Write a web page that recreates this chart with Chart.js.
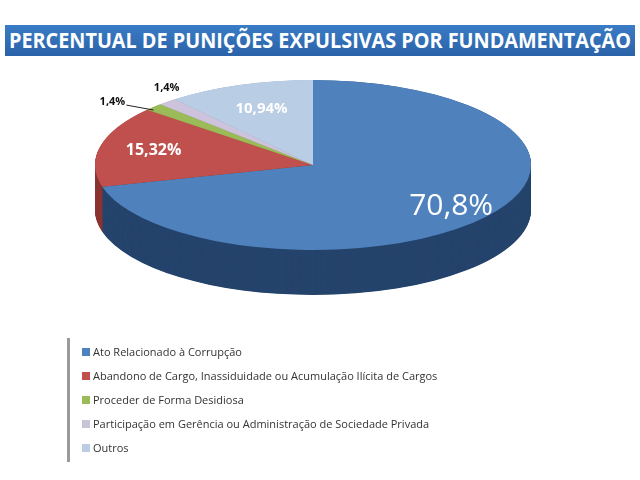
<!DOCTYPE html>
<html><head><meta charset="utf-8">
<script src="https://cdn.jsdelivr.net/npm/chart.js@4"></script>
<style>
body{margin:0;width:640px;height:480px;background:#fff;position:relative;overflow:hidden;font-family:"Open Sans",sans-serif}
#title{position:absolute;left:5px;top:25px;width:630px;height:31px;background:linear-gradient(#3a7cc6,#2a62a8);overflow:hidden}
#tt{position:absolute;left:0;top:0;color:#fff;font:bold 21px "Open Sans",sans-serif;line-height:31px;white-space:nowrap;transform-origin:0 50%}
#c{position:absolute;left:0;top:0}
#legend{position:absolute;left:67px;top:338px;border-left:3px solid #9a9a9a;padding:4px 0 2px 12px;height:118px}
.it{font-size:11px;color:#333;height:24px;line-height:20px;white-space:nowrap}
.sw{display:inline-block;width:8px;height:8px;margin-right:3px;vertical-align:0px}
</style></head><body>
<canvas id="c" width="640" height="480"></canvas>
<div id="title"><span id="tt">PERCENTUAL DE PUNIÇÕES EXPULSIVAS POR FUNDAMENTAÇÃO</span></div>
<div id="legend"></div>
<script>
const categories=["Ato Relacionado à Corrupção","Abandono de Cargo, Inassiduidade ou Acumulação Ilícita de Cargos","Proceder de Forma Desidiosa","Participação em Gerência ou Administração de Sociedade Privada","Outros"];
const values=[70.8,15.32,1.4,1.4,10.94];
const valueLabels=["70,8%","15,32%","1,4%","1,4%","10,94%"];
const topColors=["#4f81bd","#c0504d","#9bbb59","#cdc3dd","#b9cde5"];
const sideColors=["#25446c","#8a3431","#6b8a35","#9a90ae","#8a9fbb"];
const legendColors=["#4f81bd","#c0504d","#9bbb59","#c9c3d9","#b9cde5"];

const tt=document.getElementById('tt');
const w=tt.getBoundingClientRect().width, target=622;
tt.style.transform=`scaleX(${target/w})`;tt.style.left='4px';

const RX=218, RY=85, DEPTH=45;
let lg=document.getElementById('legend');
categories.forEach((c,i)=>{lg.innerHTML+=`<div class="it"><span class="sw" style="background:${legendColors[i]}"></span>${c}</div>`});

function tf(arc){const r=arc.outerRadius;return {sx:RX/r,sy:RY/r};}
const pie3d={id:'pie3d',
 beforeDatasetsDraw(chart){
  const ctx=chart.ctx,meta=chart.getDatasetMeta(0),a0=meta.data[0];
  const {sx,sy}=tf(a0),cx=a0.x,cy=a0.y;
  ctx.save();ctx.translate(cx,cy);ctx.scale(sx,sy);ctx.translate(-cx,-cy);
  const d=DEPTH/sy;
  for(let o=d;o>0;o-=1){
   meta.data.forEach((a,i)=>{
    ctx.beginPath();ctx.moveTo(a.x,a.y+o);ctx.arc(a.x,a.y+o,a.outerRadius,a.startAngle,a.endAngle);ctx.closePath();
    ctx.fillStyle=sideColors[i];ctx.fill();
   });
  }
 },
 afterDatasetsDraw(chart){
  const ctx=chart.ctx;ctx.restore();
  const meta=chart.getDatasetMeta(0);
  const fr=[0.8,0.75,1.12,1.1,0.7];
  const fonts=["30px","bold 16px","bold 11px","bold 11px","bold 15px"];
  ctx.save();ctx.textAlign='center';ctx.textBaseline='middle';
  meta.data.forEach((a,i)=>{
   const m=(a.startAngle+a.endAngle)/2;
   let x=a.x+RX*fr[i]*Math.cos(m), y=a.y+RY*fr[i]*Math.sin(m);
   if(i==2){x-=22;y+=2;ctx.strokeStyle='#222';ctx.lineWidth=1;ctx.beginPath();ctx.moveTo(x+14,y+3);ctx.lineTo(a.x+RX*Math.cos(m),a.y+RY*Math.sin(m)+3);ctx.stroke();}
   if(i==3){x+=14;y-=8;}
   ctx.font=fonts[i]+' "Open Sans",sans-serif';
   ctx.fillStyle=(i==2||i==3)?'#111':'#fff';
   ctx.fillText(valueLabels[i],x,y);
  });
  ctx.restore();
 }};
new Chart(document.getElementById('c'),{type:'pie',
 data:{labels:categories,datasets:[{data:values,backgroundColor:topColors,borderWidth:0}]},
 options:{responsive:false,animation:false,layout:{padding:{left:0,right:14,top:0,bottom:150}},
  plugins:{legend:{display:false},tooltip:{enabled:false}}},
 plugins:[pie3d]});
</script></body></html>
